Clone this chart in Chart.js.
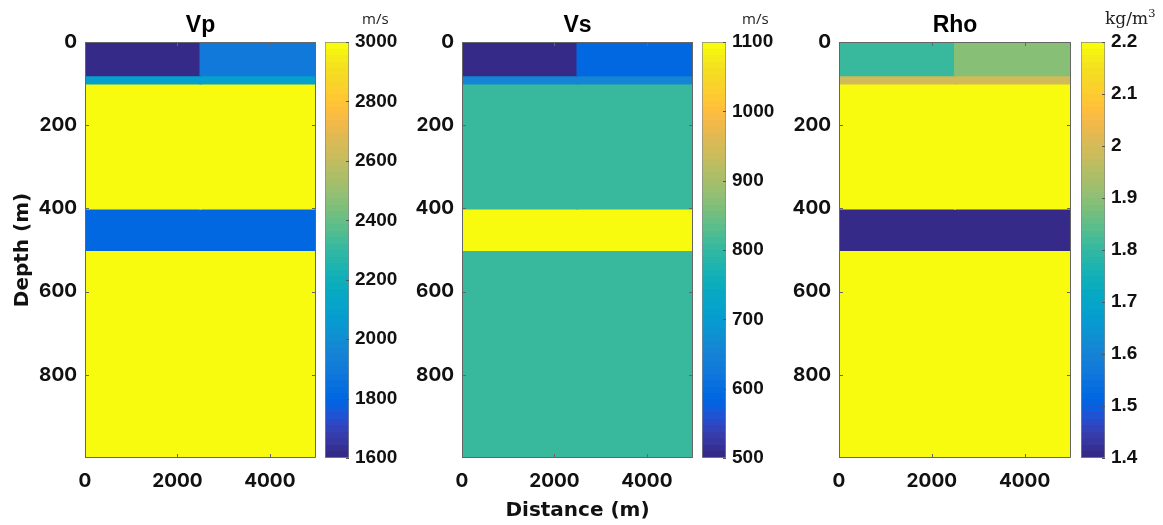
<!DOCTYPE html>
<html>
<head>
<meta charset="utf-8">
<script src="https://cdn.jsdelivr.net/npm/chart.js@4/dist/chart.umd.min.js"></script>
<style>
  body { margin: 0; background: #fff; width: 1163px; height: 525px; position: relative; overflow: hidden; }
  canvas { position: absolute; top: 0; }
  .unit { position: absolute; color: #222; white-space: nowrap; }
  .sans { font: 15px "Open Sans", "Noto Sans", sans-serif; top: 8px; }
  .serif { font: 17px "DejaVu Serif", serif; top: 6px; }
  .serif sup { font-size: 0.7em; }
</style>
</head>
<body>
<canvas id="vp" width="318" height="525" style="left:0px"></canvas>
<canvas id="vpBar" width="84" height="525" style="left:320px"></canvas>
<div class="unit sans" style="left:362px">m/s</div>

<canvas id="vs" width="318" height="525" style="left:377px"></canvas>
<canvas id="vsBar" width="84" height="525" style="left:697px"></canvas>
<div class="unit sans" style="left:742px">m/s</div>

<canvas id="rho" width="319" height="525" style="left:754px"></canvas>
<canvas id="rhoBar" width="84" height="525" style="left:1076px"></canvas>
<div class="unit serif" style="left:1105px">kg/m<sup>3</sup></div>

<script>
// model layers (depth in m) and the two model columns (distance in m)
const layerTops = [0, 80, 100, 400, 500];
const layerBottoms = [80, 100, 400, 500, 1000];
const columns = ['0-2500', '2500-5000'];

// layer values, left column / right column
const vpLeft = [1600, 2100, 3000, 1800, 3000];
const vpRight = [1900, 2100, 3000, 1800, 3000];
const vsLeft = [500, 650, 800, 1100, 800];
const vsRight = [590, 650, 800, 1100, 800];
const rhoLeft = [1.8, 2.0, 2.2, 1.4, 2.2];
const rhoRight = [1.9, 2.0, 2.2, 1.4, 2.2];

// axes
const depthTicks = [0, 200, 400, 600, 800];
const distanceTicks = [0, 2000, 4000];
const vpTicks = [1600, 1800, 2000, 2200, 2400, 2600, 2800, 3000];
const vsTicks = [500, 600, 700, 800, 900, 1000, 1100];
const rhoTicks = [1.4, 1.5, 1.6, 1.7, 1.8, 1.9, 2.0, 2.1, 2.2];

// parula colormap, 64 steps
const parula = [
  [0.2081,0.1663,0.5292],[0.2116,0.1898,0.5777],[0.2123,0.2138,0.6270],[0.2081,0.2386,0.6771],
  [0.1959,0.2645,0.7279],[0.1707,0.2919,0.7792],[0.1253,0.3242,0.8303],[0.0591,0.3598,0.8683],
  [0.0117,0.3875,0.8820],[0.0060,0.4086,0.8828],[0.0165,0.4266,0.8786],[0.0329,0.4430,0.8720],
  [0.0498,0.4586,0.8641],[0.0629,0.4737,0.8554],[0.0723,0.4887,0.8467],[0.0779,0.5040,0.8384],
  [0.0793,0.5200,0.8312],[0.0749,0.5375,0.8263],[0.0641,0.5570,0.8240],[0.0488,0.5772,0.8228],
  [0.0343,0.5966,0.8199],[0.0265,0.6137,0.8135],[0.0239,0.6287,0.8038],[0.0231,0.6418,0.7913],
  [0.0228,0.6535,0.7768],[0.0267,0.6642,0.7607],[0.0384,0.6743,0.7436],[0.0590,0.6838,0.7254],
  [0.0843,0.6928,0.7062],[0.1133,0.7015,0.6859],[0.1453,0.7098,0.6646],[0.1801,0.7177,0.6424],
  [0.2178,0.7250,0.6193],[0.2586,0.7317,0.5954],[0.3022,0.7376,0.5712],[0.3482,0.7424,0.5473],
  [0.3953,0.7459,0.5244],[0.4420,0.7481,0.5033],[0.4871,0.7491,0.4840],[0.5300,0.7491,0.4661],
  [0.5709,0.7485,0.4494],[0.6099,0.7473,0.4337],[0.6473,0.7456,0.4188],[0.6834,0.7435,0.4044],
  [0.7184,0.7411,0.3905],[0.7525,0.7384,0.3768],[0.7858,0.7356,0.3633],[0.8185,0.7327,0.3498],
  [0.8507,0.7299,0.3360],[0.8824,0.7274,0.3217],[0.9139,0.7258,0.3063],[0.9450,0.7261,0.2886],
  [0.9739,0.7314,0.2666],[0.9938,0.7455,0.2403],[0.9990,0.7653,0.2164],[0.9955,0.7861,0.1967],
  [0.9880,0.8066,0.1794],[0.9789,0.8271,0.1633],[0.9697,0.8481,0.1475],[0.9626,0.8705,0.1309],
  [0.9589,0.8949,0.1132],[0.9598,0.9218,0.0948],[0.9661,0.9514,0.0755],[0.9763,0.9831,0.0538]
];

const rgb = c => `rgb(${Math.round(c[0] * 255)},${Math.round(c[1] * 255)},${Math.round(c[2] * 255)})`;

function colorOf(v, min, max) {
  let i = Math.floor((v - min) / (max - min) * parula.length);
  i = Math.max(0, Math.min(parula.length - 1, i));
  return rgb(parula[i]);
}

Chart.defaults.font.family = 'Arial, "Liberation Sans", sans-serif';
Chart.defaults.color = '#111';
Chart.defaults.animation = false;

const axisFont = { family: 'Inter, "DejaVu Sans", sans-serif', size: 19, weight: 'bold' };
const labelFont = { family: '"DejaVu Sans", sans-serif', size: 20, weight: 'bold' };
const barFont = { size: 19, weight: 'bold' };
const fixedTicks = arr => scale => { scale.ticks = arr.map(v => ({ value: v })); };
const noGrid = { display: false, drawTicks: false, tickLength: 0 };

// frame + inward tick marks, like matlab's box on
const boxTicks = {
  id: 'boxTicks',
  afterDatasetsDraw(chart, args, opts) {
    const { ctx, chartArea: a, scales } = chart;
    const len = opts.len;
    ctx.save();
    ctx.strokeStyle = opts.color;
    ctx.lineWidth = 1;
    ctx.beginPath();
    if (opts.frame) {
      ctx.rect(Math.round(a.left) + 0.5, Math.round(a.top) + 0.5, Math.round(a.width) - 1, Math.round(a.height) - 1);
    }
    const ys = scales.y;
    ys.ticks.forEach(t => {
      const p = Math.round(ys.getPixelForValue(t.value)) + 0.5;
      if (opts.left) { ctx.moveTo(a.left, p); ctx.lineTo(a.left + len, p); }
      if (opts.right) { ctx.moveTo(a.right, p); ctx.lineTo(a.right - len, p); }
    });
    if (opts.xTicks) {
      const xs = scales.x;
      xs.ticks.forEach(t => {
        const p = Math.round(xs.getPixelForValue(t.value)) + 0.5;
        ctx.moveTo(p, a.top); ctx.lineTo(p, a.top + len);
        ctx.moveTo(p, a.bottom); ctx.lineTo(p, a.bottom - len);
      });
    }
    ctx.stroke();
    ctx.restore();
  }
};

function modelPanel(id, title, left, right, cmin, cmax, yTitle, xTitle) {
  const datasets = layerTops.map((top, i) => ({
    data: [[top, layerBottoms[i]], [top, layerBottoms[i]]],
    backgroundColor: [colorOf(left[i], cmin, cmax), colorOf(right[i], cmin, cmax)],
    xAxisID: 'xc',
    yAxisID: 'y',
    grouped: false,
    categoryPercentage: 1,
    barPercentage: 1,
    borderWidth: 0,
    inflateAmount: 1
  }));

  new Chart(document.getElementById(id), {
    type: 'bar',
    data: { labels: columns, datasets },
    plugins: [boxTicks],
    options: {
      responsive: false,
      layout: { padding: { top: 0, right: 2, bottom: 0, left: 0 } },
      scales: {
        xc: { type: 'category', labels: columns, display: false, offset: true },
        x: {
          type: 'linear', position: 'bottom', min: 0, max: 5000, offset: false,
          afterBuildTicks: fixedTicks(distanceTicks),
          afterFit: s => { s.height = 67; },
          grid: noGrid, border: { display: false },
          ticks: { font: axisFont, padding: 12, maxRotation: 0, autoSkip: false, callback: v => String(v) },
          title: { display: !!xTitle, text: xTitle || '', font: labelFont, padding: { top: 0, bottom: 2.5 } }
        },
        y: {
          type: 'linear', reverse: true, min: 0, max: 1000, offset: false,
          afterBuildTicks: fixedTicks(depthTicks),
          afterFit: s => { s.width = 85; },
          grid: noGrid, border: { display: false },
          ticks: { font: axisFont, padding: 8, autoSkip: false, callback: v => String(v) },
          title: { display: !!yTitle, text: yTitle || '', font: labelFont, padding: { top: 11, bottom: 0 } }
        }
      },
      plugins: {
        legend: { display: false },
        tooltip: { enabled: false },
        title: {
          display: true, text: title, fullSize: false, color: '#000',
          font: { size: 23, weight: 'bold' }, padding: { top: 12, bottom: 2.4 }
        },
        boxTicks: { frame: true, left: true, right: true, xTicks: true, len: 4, color: '#666' }
      }
    }
  });
}

function colorBar(id, cmin, cmax, ticks, fmt) {
  new Chart(document.getElementById(id), {
    type: 'bar',
    data: {
      labels: ['cb'],
      datasets: [{
        data: [[cmin, cmax]],
        backgroundColor: ctx => {
          const chart = ctx.chart;
          if (!chart.chartArea) return null;
          const y = chart.scales.y;
          const g = chart.ctx.createLinearGradient(0, y.getPixelForValue(cmin), 0, y.getPixelForValue(cmax));
          parula.forEach((c, i) => {
            g.addColorStop(i / parula.length, rgb(c));
            g.addColorStop((i + 1) / parula.length, rgb(c));
          });
          return g;
        },
        borderColor: '#888',
        borderWidth: 1,
        borderSkipped: false,
        categoryPercentage: 1,
        barPercentage: 1
      }]
    },
    plugins: [boxTicks],
    options: {
      responsive: false,
      layout: { padding: { top: 42, right: 0, bottom: 67, left: 5 } },
      scales: {
        x: { display: false },
        y: {
          position: 'right', min: cmin, max: cmax,
          afterBuildTicks: fixedTicks(ticks),
          afterFit: s => { s.width = 55; },
          grid: noGrid, border: { display: false },
          ticks: { font: barFont, padding: 6, autoSkip: false, callback: fmt }
        }
      },
      plugins: {
        legend: { display: false },
        tooltip: { enabled: false },
        boxTicks: { frame: false, left: false, right: true, xTicks: false, len: 3, color: '#555' }
      }
    }
  });
}

modelPanel('vp', 'Vp', vpLeft, vpRight, 1600, 3000, 'Depth (m)', null);
modelPanel('vs', 'Vs', vsLeft, vsRight, 500, 1100, null, 'Distance (m)');
modelPanel('rho', 'Rho', rhoLeft, rhoRight, 1.4, 2.2, null, null);

colorBar('vpBar', 1600, 3000, vpTicks, v => String(v));
colorBar('vsBar', 500, 1100, vsTicks, v => String(v));
colorBar('rhoBar', 1.4, 2.2, rhoTicks, v => String(Math.round(v * 10) / 10));
</script>
</body>
</html>
